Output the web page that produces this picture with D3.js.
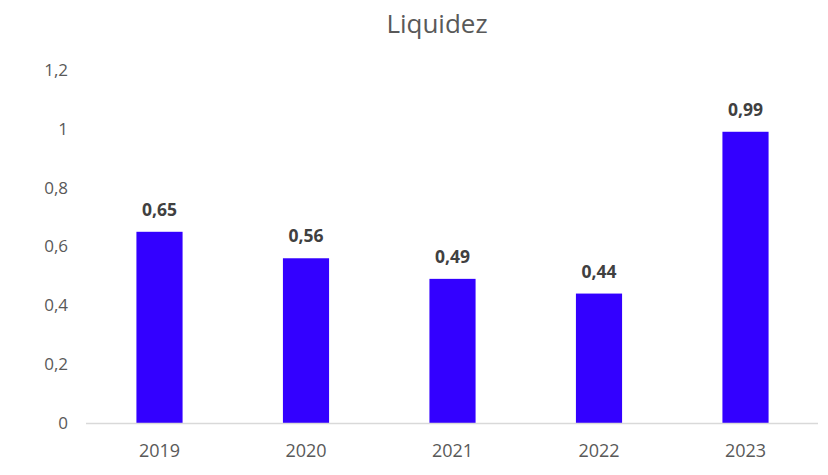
<!DOCTYPE html>
<html><head><meta charset="utf-8">
<script src="https://cdnjs.cloudflare.com/ajax/libs/d3/7.8.5/d3.min.js"></script>
<style>body{margin:0;background:#fff}svg{display:block}</style>
</head><body>
<script>
const title = "Liquidez";
const categories = ["2019","2020","2021","2022","2023"];
const values = [0.65,0.56,0.49,0.44,0.99];
const yTicks = [0,0.2,0.4,0.6,0.8,1,1.2];

const W=828,H=475;
const svg=d3.select("body").append("svg").attr("width",W).attr("height",H);
const font="'Open Sans', sans-serif";
const fmt=v=>String(+v.toFixed(2)).replace(".",",");

const x=d3.scaleBand().domain(categories).range([86.25,818.75]).paddingInner(0.685).paddingOuter(0.3425);
const y=d3.scaleLinear().domain([0,1.2]).range([423,70]);

svg.append("text").attr("x",437).attr("y",33).attr("text-anchor","middle")
  .attr("font-family",font).attr("font-size",26).attr("fill","#595959").text(title);

// y tick labels
svg.append("g").selectAll("text").data(yTicks).join("text")
  .attr("x",68).attr("y",d=>y(d)).attr("dy","0.35em").attr("text-anchor","end")
  .attr("font-family",font).attr("font-size",17).attr("fill","#595959").text(d=>fmt(d));

// bars
svg.append("g").selectAll("rect").data(values).join("rect")
  .attr("x",(d,i)=>x(categories[i])).attr("width",x.bandwidth())
  .attr("y",d=>y(d)).attr("height",d=>y(0)-y(d)).attr("fill","#3300ff");

// axis line
svg.append("line").attr("x1",86).attr("x2",818).attr("y1",y(0)+0.5).attr("y2",y(0)+0.5)
  .attr("stroke","#d9d9d9").attr("stroke-width",1.5);

// x labels
svg.append("g").selectAll("text").data(categories).join("text")
  .attr("x",d=>x(d)+x.bandwidth()/2).attr("y",457).attr("text-anchor","middle")
  .attr("font-family",font).attr("font-size",18).attr("fill","#595959").text(d=>d);

// data labels
svg.append("g").selectAll("text").data(values).join("text")
  .attr("x",(d,i)=>x(categories[i])+x.bandwidth()/2).attr("y",d=>y(d)-16)
  .attr("text-anchor","middle").attr("font-family",font).attr("font-weight","bold")
  .attr("font-size",17.5).attr("fill","#404040").text(d=>fmt(d));
</script>
</body></html>
